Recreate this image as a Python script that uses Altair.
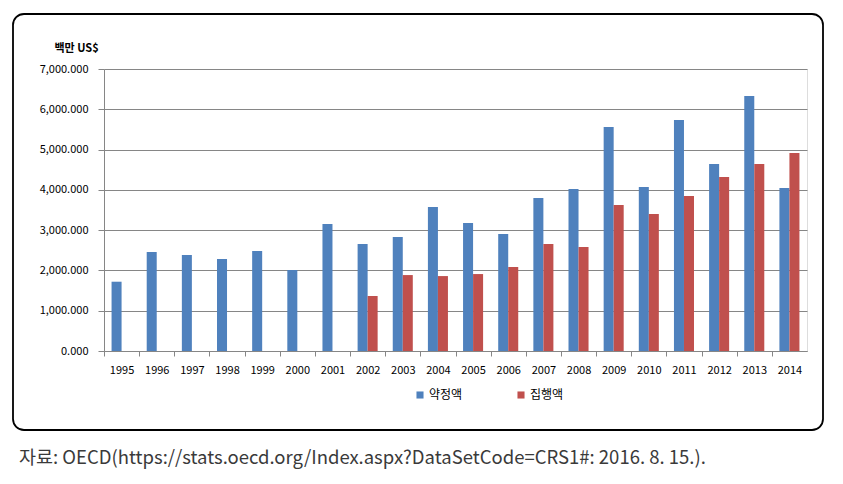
import altair as alt
import pandas as pd

years = [str(y) for y in range(1995, 2015)]
commit = [1720, 2460, 2385, 2285, 2485, 2010, 3150, 2655, 2830, 3575, 3175, 2905,
          3795, 4020, 5560, 4070, 5735, 4640, 6330, 4045]
disb = [None, None, None, None, None, None, None, 1365, 1885, 1860, 1910, 2085,
        2655, 2580, 3625, 3400, 3845, 4320, 4640, 4915]
series = ["약정액", "집행액"]
colors = ["#4F81BD", "#C0504D"]
source = "자료: OECD(https://stats.oecd.org/Index.aspx?DataSetCode=CRS1#: 2016. 8. 15.)."

rows = []
for y, c, d in zip(years, commit, disb):
    rows.append({"year": y, "series": series[0], "value": c})
    if d is not None:
        rows.append({"year": y, "series": series[1], "value": d})
df = pd.DataFrame(rows)

FONT = "Noto Sans CJK KR"
W, H = 703, 282
step = W / len(years)

frame = alt.Chart(pd.DataFrame({"a": [0]})).mark_rect(
    fillOpacity=0, stroke="black", strokeWidth=1.8, cornerRadius=11
).encode(x=alt.value(-91), x2=alt.value(719), y=alt.value(-55), y2=alt.value(361))

bars = alt.Chart(df).mark_bar().encode(
    x=alt.X("year:N", sort=years,
            scale=alt.Scale(paddingInner=0.43, paddingOuter=0.215),
            axis=alt.Axis(title=None, labelAngle=0, labelFontSize=11, labelColor="black",
                          labelFont=FONT, tickOffset=-step / 2, labelOffset=step / 2,
                          tickSize=5, tickColor="#868686", domainColor="#868686",
                          labelPadding=8)),
    xOffset=alt.XOffset("series:N", sort=series, scale=alt.Scale(paddingInner=0)),
    y=alt.Y("value:Q", scale=alt.Scale(domain=[0, 7000], nice=False),
            axis=alt.Axis(values=[0, 1000, 2000, 3000, 4000, 5000, 6000, 7000],
                          format=",.3f", labelFontSize=11, labelColor="black",
                          labelFont=FONT, tickSize=6, labelPadding=10,
                          tickColor="#868686", domainColor="#868686",
                          gridColor="#868686", title="백만 US$", titleAngle=0,
                          titleX=-50, titleY=-21, titleAlign="left",
                          titleBaseline="middle", titleFont=FONT, titleFontSize=11,
                          titleFontWeight="bold", titleColor="black")),
    color=alt.Color("series:N", sort=series,
                    scale=alt.Scale(domain=series, range=colors),
                    legend=alt.Legend(title=None, orient="none", legendX=310, legendY=320,
                                      direction="horizontal", symbolType="square",
                                      symbolSize=50, symbolStrokeWidth=0,
                                      labelFont=FONT, labelFontSize=12, labelColor="black",
                                      columnPadding=52, labelOffset=3)),
)

src = alt.Chart(pd.DataFrame({"t": [source]})).mark_text(
    align="left", baseline="middle", font=FONT, fontSize=18.5, color="#3a3a3a"
).encode(text="t:N", x=alt.value(-85), y=alt.value(389))

chart = alt.layer(frame, bars, src).properties(
    width=W, height=H,
    padding={"left": 96, "top": 61, "right": 28, "bottom": 125},
    autosize=alt.AutoSizeParams(type="none"),
).configure_view(stroke=None).configure(background="white")

chart.save("out.html", embed_options={"renderer": "svg", "actions": False})
